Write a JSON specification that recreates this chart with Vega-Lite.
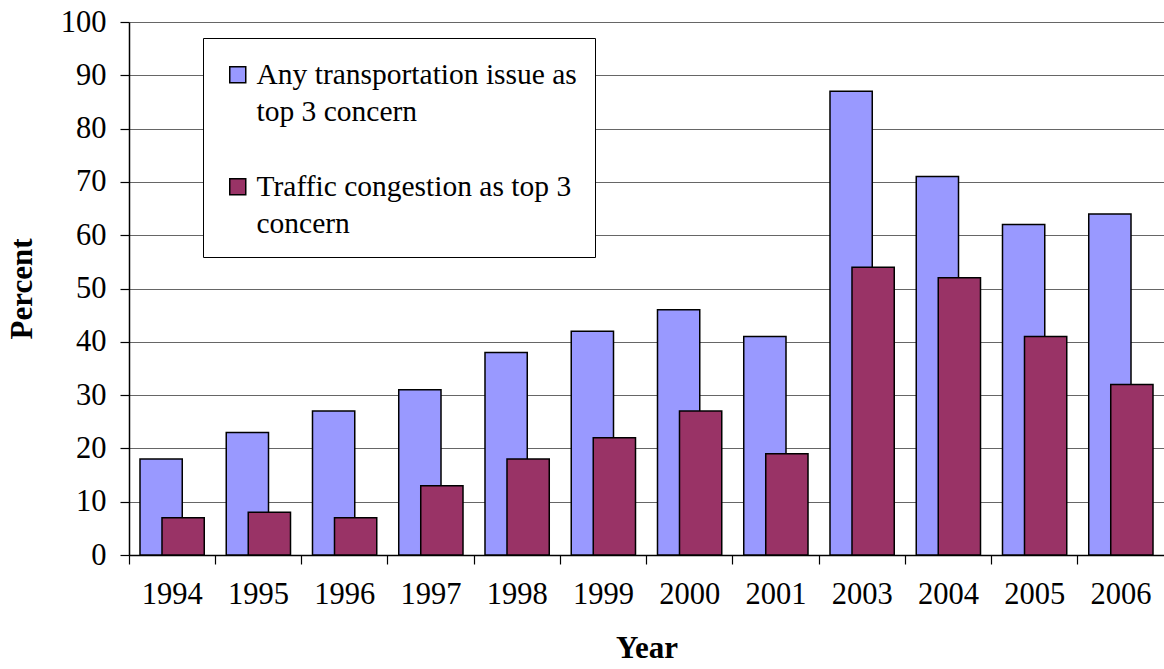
{
  "$schema": "https://vega.github.io/schema/vega-lite/v6.json",
  "width": 1035,
  "height": 533,
  "autosize": "none",
  "padding": {"left": 129, "top": 22, "right": 0, "bottom": 114},
  "background": "white",
  "config": {
    "view": {"stroke": null},
    "font": "Liberation Serif",
    "style": {"guide-label": {"lineHeight": 37}}
  },
  "data": {
    "values": [
      {"year": "1994", "series": "Any transportation issue as top 3 concern", "value": 18},
      {"year": "1995", "series": "Any transportation issue as top 3 concern", "value": 23},
      {"year": "1996", "series": "Any transportation issue as top 3 concern", "value": 27},
      {"year": "1997", "series": "Any transportation issue as top 3 concern", "value": 31},
      {"year": "1998", "series": "Any transportation issue as top 3 concern", "value": 38},
      {"year": "1999", "series": "Any transportation issue as top 3 concern", "value": 42},
      {"year": "2000", "series": "Any transportation issue as top 3 concern", "value": 46},
      {"year": "2001", "series": "Any transportation issue as top 3 concern", "value": 41},
      {"year": "2003", "series": "Any transportation issue as top 3 concern", "value": 87},
      {"year": "2004", "series": "Any transportation issue as top 3 concern", "value": 71},
      {"year": "2005", "series": "Any transportation issue as top 3 concern", "value": 62},
      {"year": "2006", "series": "Any transportation issue as top 3 concern", "value": 64},
      {"year": "1994", "series": "Traffic congestion as top 3 concern", "value": 7},
      {"year": "1995", "series": "Traffic congestion as top 3 concern", "value": 8},
      {"year": "1996", "series": "Traffic congestion as top 3 concern", "value": 7},
      {"year": "1997", "series": "Traffic congestion as top 3 concern", "value": 13},
      {"year": "1998", "series": "Traffic congestion as top 3 concern", "value": 18},
      {"year": "1999", "series": "Traffic congestion as top 3 concern", "value": 22},
      {"year": "2000", "series": "Traffic congestion as top 3 concern", "value": 27},
      {"year": "2001", "series": "Traffic congestion as top 3 concern", "value": 19},
      {"year": "2003", "series": "Traffic congestion as top 3 concern", "value": 54},
      {"year": "2004", "series": "Traffic congestion as top 3 concern", "value": 52},
      {"year": "2005", "series": "Traffic congestion as top 3 concern", "value": 41},
      {"year": "2006", "series": "Traffic congestion as top 3 concern", "value": 32}
    ]
  },
  "encoding": {
    "x": {
      "field": "year", "type": "nominal", "sort": null,
      "scale": {"paddingInner": 0, "paddingOuter": 0},
      "axis": {
        "title": "Year", "titleFont": "Liberation Serif", "titleFontSize": 31, "titleFontWeight": "bold", "titleColor": "black", "titlePadding": 24,
        "labelAngle": 0, "labelFont": "Liberation Serif", "labelFontSize": 30.5, "labelColor": "black", "labelPadding": 15,
        "bandPosition": 0, "tickSize": 9, "tickColor": "black", "domainColor": "black", "domainWidth": 1.5, "tickWidth": 1.2,
        "grid": false
      }
    },
    "y": {
      "field": "value", "type": "quantitative",
      "scale": {"domain": [0, 100], "nice": false},
      "axis": {
        "title": "Percent", "titleFont": "Liberation Serif", "titleFontSize": 31, "titleFontWeight": "bold", "titleColor": "black", "titlePadding": 22,
        "values": [0, 10, 20, 30, 40, 50, 60, 70, 80, 90, 100],
        "labelFont": "Liberation Serif", "labelFontSize": 30.5, "labelColor": "black", "labelPadding": 14,
        "tickSize": 9, "tickColor": "black", "domainColor": "black", "domainWidth": 1.5, "tickWidth": 1.2,
        "grid": true, "gridColor": "#666666", "gridWidth": 1.2
      }
    },
    "color": {
      "field": "series", "type": "nominal",
      "scale": {
        "domain": ["Any transportation issue as top 3 concern", "Traffic congestion as top 3 concern"],
        "range": ["#9999FF", "#993366"]
      },
      "legend": {
        "title": " ", "titleFontSize": 4, "titlePadding": 0,
        "orient": "none", "legendX": 74, "legendY": 16,
        "fillColor": "white", "strokeColor": "black", "padding": 18,
        "symbolType": "square", "symbolSize": 256, "symbolStrokeColor": "black", "symbolStrokeWidth": 1.5, "symbolOpacity": 1, "symbolOffset": 2,
        "labelFont": "Liberation Serif", "labelFontSize": 29.5, "labelColor": "black", "labelLimit": 0, "labelOffset": 4,
        "labelBaseline": "middle", "rowPadding": 44,
        "labelExpr": "datum.label == 'Any transportation issue as top 3 concern' ? ['Any transportation issue as', 'top 3 concern'] : ['Traffic congestion as top 3', 'concern']"
      }
    }
  },
  "layer": [
    {
      "transform": [{"filter": "datum.series == 'Any transportation issue as top 3 concern'"}],
      "mark": {"type": "bar", "width": {"band": 0.49}, "xOffset": -11, "stroke": "black", "strokeWidth": 1.5}
    },
    {
      "transform": [{"filter": "datum.series == 'Traffic congestion as top 3 concern'"}],
      "mark": {"type": "bar", "width": {"band": 0.49}, "xOffset": 11, "stroke": "black", "strokeWidth": 1.5}
    }
  ]
}
